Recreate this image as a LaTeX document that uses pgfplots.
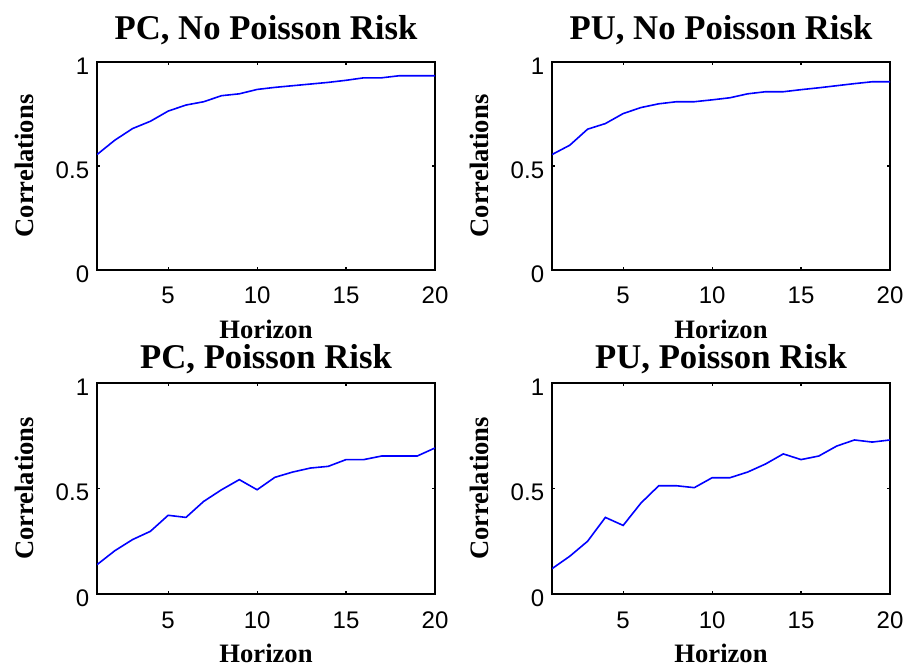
\documentclass[border=0pt]{standalone}
\usepackage{fontspec}
\setmainfont{Liberation Serif}
\setsansfont{Liberation Sans}
\usepackage{pgfplots}
\pgfplotsset{compat=1.18}
\usepackage{pgfplotstable}

% Correlations by forecast horizon
\pgfplotstableread{
h  pcno  puno  pcp   pup
1  0.555 0.555 0.139 0.120
2  0.624 0.600 0.205 0.179
3  0.680 0.677 0.258 0.250
4  0.715 0.704 0.297 0.363
5  0.764 0.752 0.373 0.325
6  0.793 0.781 0.363 0.431
7  0.809 0.799 0.439 0.513
8  0.838 0.809 0.494 0.513
9  0.847 0.809 0.542 0.504
10 0.868 0.818 0.494 0.551
11 0.878 0.828 0.553 0.551
12 0.886 0.847 0.578 0.578
13 0.894 0.857 0.597 0.616
14 0.902 0.857 0.605 0.664
15 0.912 0.867 0.637 0.637
16 0.924 0.876 0.637 0.654
17 0.924 0.886 0.654 0.701
18 0.934 0.896 0.654 0.730
19 0.934 0.905 0.654 0.720
20 0.934 0.905 0.692 0.730
}\corrdata

\definecolor{lineblue}{RGB}{0,0,255}

\pgfplotsset{
  corrpanel/.style={
    scale only axis, width=338pt,
    xmin=1, xmax=20, ymin=0, ymax=1,
    xtick={5,10,15,20}, ytick={0,0.5,1},
    tick align=inside, major tick length=3pt,
    tick style={black, line width=1.2pt},
    axis line style={black, line width=1.8pt},
    /pgf/number format/assume math mode=true,
    tick label style={font=\fontsize{24}{24}\selectfont\sffamily, inner sep=0pt},
    xticklabel style={anchor=base, yshift=-34pt},
    yticklabel style={anchor=east, xshift=-7.7pt, yshift=-4pt},
    every axis title shift=0pt,
    title style={font=\fontsize{34.7}{36}\selectfont\bfseries, anchor=base, inner sep=0pt},
    label style={font=\fontsize{26.6}{28}\selectfont\bfseries, inner sep=0pt},
    xlabel={Horizon}, ylabel={Correlations},
    ylabel style={at={(axis description cs:-0.1893,0.5)}, anchor=base, rotate=0},
  },
  toprow/.style={
    height=208pt,
    title style={at={(0.5,1.1058)}},
    xlabel style={at={(axis description cs:0.5,-0.3317)}, anchor=base},
  },
  botrow/.style={
    height=211pt,
    title style={at={(0.5,1.0664)}},
    xlabel style={at={(axis description cs:0.5,-0.3223)}, anchor=base},
  },
  corrline/.style={lineblue, line width=1.6pt, mark=none},
}

\begin{document}
\begin{tikzpicture}
\useasboundingbox (0,0) rectangle (907pt,664pt);

\begin{axis}[corrpanel, toprow, at={(97pt,394pt)}, anchor=south west,
  title={PC, No Poisson Risk}]
  \addplot[corrline] table[x=h, y=pcno] {\corrdata};
\end{axis}

\begin{axis}[corrpanel, toprow, at={(552pt,394pt)}, anchor=south west,
  title={PU, No Poisson Risk}]
  \addplot[corrline] table[x=h, y=puno] {\corrdata};
\end{axis}

\begin{axis}[corrpanel, botrow, at={(97pt,70pt)}, anchor=south west,
  title={PC, Poisson Risk}]
  \addplot[corrline] table[x=h, y=pcp] {\corrdata};
\end{axis}

\begin{axis}[corrpanel, botrow, at={(552pt,70pt)}, anchor=south west,
  title={PU, Poisson Risk}]
  \addplot[corrline] table[x=h, y=pup] {\corrdata};
\end{axis}
\end{tikzpicture}
\end{document}
